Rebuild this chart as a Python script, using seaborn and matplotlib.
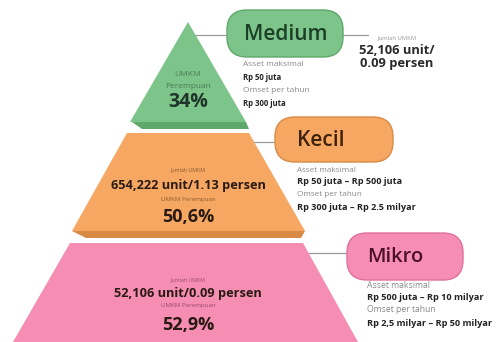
import matplotlib
matplotlib.use("Agg")
import matplotlib.pyplot as plt
import seaborn as sns
from matplotlib.patches import Polygon, FancyBboxPatch

sns.set_theme(style="white")
plt.rcParams['font.family'] = ['Open Sans', 'DejaVu Sans']

# ---- data ----
tiers = ["Medium", "Kecil", "Mikro"]
jumlah_umkm = ["52,106 unit/0.09 persen", "654,222 unit/1.13 persen", "52,106 unit/0.09 persen"]
umkm_perempuan = ["34%", "50,6%", "52,9%"]
asset_maks = ["Rp 50 juta", "Rp 50 juta – Rp 500 juta", "Rp 500 juta – Rp 10 milyar"]
omset_tahun = ["Rp 300 juta", "Rp 300 juta – Rp 2.5 milyar", "Rp 2,5 milyar – Rp 50 milyar"]

fill_col = ["#7cc489", "#f6a862", "#f68db2"]
shade_col = ["#5fa86c", "#d98a45", "#e0709a"]
title_col = ["#1d3f27", "#3f220c", "#4c1129"]
sub_col = ["#4d7a58", "#8a5a30", "#9c4a6c"]

fig = plt.figure(figsize=(4.99, 3.42), dpi=100)
ax = fig.add_axes([0, 0, 1, 1])
ax.set_xlim(0, 499)
ax.set_ylim(342, 0)
ax.axis("off")

# pyramid shapes (layout)
shapes = [
    [(188, 22), (130, 122), (246, 122)],
    [(127, 133), (249, 133), (305, 231), (72, 231)],
    [(70, 243), (303, 243), (358, 342), (13, 342)],
]
shades = [
    [(132, 122), (246, 122), (249, 129), (142, 129)],
    [(72, 231), (305, 231), (301, 238), (86, 238)],
    None,
]
for i in range(3):
    ax.add_patch(Polygon(shapes[i], closed=True, fc=fill_col[i], ec="none", zorder=2))
    if shades[i]:
        ax.add_patch(Polygon(shades[i], closed=True, fc=shade_col[i], ec="none", zorder=2))

# label boxes
boxes = [(227, 10, 116, 47), (275, 117, 118, 45), (347, 233, 116, 47)]
title_x = [286, 297, 367]
title_fs = [15, 15, 14.5]
lines = [((192, 227), 35), ((251, 275), 142), ((305, 347), 253)]
for i, (bx, by, bw, bh) in enumerate(boxes):
    ax.add_patch(FancyBboxPatch((bx, by), bw, bh,
                                boxstyle="round,pad=0,rounding_size=20",
                                fc=fill_col[i], ec=shade_col[i], lw=1.0, zorder=3))
    ha = "center" if i == 0 else "left"
    ax.text(title_x[i], by + bh / 2 + 1, tiers[i], ha=ha, va="center",
            fontsize=title_fs[i], fontweight="semibold", color=title_col[i], zorder=4)
    (x0, x1), ly = lines[i]
    ax.plot([x0, x1], [ly, ly], color="#9a9a9a", lw=0.9, zorder=1)

# info text under boxes
info_x = [243, 297, 367]
info_y = [[65, 78, 91, 103], [170, 182, 195, 208], [285, 297, 310, 323]]
info_fs = [(6.0, 5.6), (5.9, 6.6), (6.2, 6.6)]
for i in range(3):
    x = info_x[i]
    y = info_y[i]
    fs_l, fs_v = info_fs[i]
    ax.text(x, y[0], "Asset maksimal", fontsize=fs_l, color="#8a8a8a", va="center", ha="left")
    ax.text(x, y[1], asset_maks[i], fontsize=fs_v, color="#222222", fontweight="bold", va="center", ha="left")
    ax.text(x, y[2], "Omset per tahun", fontsize=fs_l, color="#8a8a8a", va="center", ha="left")
    ax.text(x, y[3], omset_tahun[i], fontsize=fs_v, color="#222222", fontweight="bold", va="center", ha="left")

# Medium jumlah outside
ax.plot([343, 368], [35, 35], color="#9a9a9a", lw=0.9, zorder=1)
ax.text(397, 38, "Jumlah UMKM", fontsize=4.2, color="#999999", ha="center", va="center")
m1, m2 = jumlah_umkm[0].split("/")
ax.text(397, 50, m1 + "/", fontsize=9.3, fontweight="bold", color="#2a2a2a", ha="center", va="center")
ax.text(397, 63, m2, fontsize=9.3, fontweight="bold", color="#2a2a2a", ha="center", va="center")

# text inside pyramid
cx = 188
ax.text(cx, 75, "UMKM", fontsize=6, color=sub_col[0], ha="center", va="center", zorder=5)
ax.text(cx, 86, "Perempuan", fontsize=6, color=sub_col[0], ha="center", va="center", zorder=5)
ax.text(cx, 102, umkm_perempuan[0], fontsize=14, fontweight="bold", color="#20352a", ha="center", va="center", zorder=5)

inner_y = {1: (170, 185, 199, 217), 2: (280, 293, 306, 325)}
for i in (1, 2):
    y = inner_y[i]
    ax.text(cx, y[0], "Jumlah UMKM", fontsize=3.8, color=sub_col[i], ha="center", va="center", zorder=5)
    ax.text(cx, y[1], jumlah_umkm[i], fontsize=9.2, fontweight="bold", color="#2a1a14", ha="center", va="center", zorder=5)
    ax.text(cx, y[2], "UMKM Perempuan", fontsize=4.4, color=sub_col[i], ha="center", va="center", zorder=5)
    ax.text(cx, y[3], umkm_perempuan[i], fontsize=13, fontweight="bold", color="#2a1a14", ha="center", va="center", zorder=5)

fig.savefig("out.png", dpi=100)
